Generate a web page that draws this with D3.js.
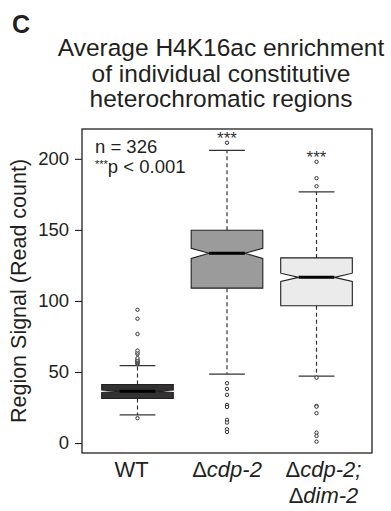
<!DOCTYPE html>
<html>
<head>
<meta charset="utf-8">
<script src="https://cdn.jsdelivr.net/npm/d3@7"></script>
<style>
  body { margin: 0; background: #fff; }
  svg { display: block; font-family: "Liberation Sans", Arial, Helvetica, sans-serif; }
</style>
</head>
<body>
<div id="chart"></div>
<script>
// Values
const groups = ["WT", "Δcdp-2", "Δcdp-2;Δdim-2"];
const lowerWhisker = [19.8, 48.5, 47.1];
const quartile1 = [31.3, 109, 96.6];
const medians = [36.4, 133.5, 116.6];
const quartile3 = [41.2, 149.7, 130.3];
const upperWhisker = [54.5, 205.9, 176.8];
const outliers = [
  [17.5, 55.6, 56.2, 56.9, 57.4, 58.0, 58.6, 59.8, 62.6, 63.7, 65.1, 76.7, 87.5, 93.8],
  [211.3, 42.1, 38.1, 33.9, 26.8, 25.4, 16.3, 14.4, 9.7, 7.8],
  [180.7, 186.4, 197.9, 46.0, 26.1, 25.6, 21.0, 7.3, 5.0, 1.0]
];
const boxFills = ["#323232", "#9b9b9b", "#ebebeb"];
const sampleSize = 326;
const yTicks = [0, 50, 100, 150, 200];
const significance = ["", "***", "***"];
const titleLines = ["Average H4K16ac enrichment", "of individual constitutive", "heterochromatic regions"];

const width = 391, height = 511;
const margin = { top: 129, right: 19, bottom: 58, left: 82 };
const ink = "#231f20";

const svg = d3.select("#chart").append("svg")
  .attr("width", width).attr("height", height);

// R-style axes: 4% padding on both axes
const x = d3.scaleLinear().domain([0.38, 3.62]).range([margin.left, width - margin.right]);
const y = d3.scaleLinear().domain([-7, 221]).range([height - margin.bottom, margin.top]);

const boxHalf = x(1.4) - x(1);          // boxwex 0.8
const notchHalf = boxHalf / 2;          // notch.frac 0.5
const capHalf = boxHalf / 2;            // staplewex 0.5

// panel letter and title
svg.append("text").attr("x", 12).attr("y", 33)
  .attr("font-size", 25).attr("font-weight", "bold").attr("fill", ink).text("C");

svg.append("g").selectAll("text").data(titleLines).join("text")
  .attr("x", 221).attr("y", (d, i) => 56 + i * 25.5)
  .attr("text-anchor", "middle").attr("font-size", 24.5).attr("fill", ink)
  .text(d => d);

// frame
svg.append("rect")
  .attr("x", margin.left).attr("y", margin.top)
  .attr("width", width - margin.left - margin.right)
  .attr("height", height - margin.top - margin.bottom)
  .attr("fill", "none").attr("stroke", ink).attr("stroke-width", 1.3);

// y axis
const yAxis = svg.append("g")
  .attr("transform", `translate(${margin.left},0)`)
  .call(d3.axisLeft(y).tickValues(yTicks).tickSize(7).tickPadding(6));
yAxis.select(".domain").remove();
yAxis.selectAll("line").attr("stroke", ink).attr("stroke-width", 1.1);
yAxis.selectAll("text").attr("font-size", 18.5).attr("fill", ink)
  .attr("font-family", "Liberation Sans, Arial, sans-serif");

svg.append("text")
  .attr("transform", `translate(26,${(margin.top + height - margin.bottom) / 2}) rotate(-90)`)
  .attr("text-anchor", "middle").attr("font-size", 21.5).attr("fill", ink)
  .text("Region Signal (Read count)");

// boxes
const stats = groups.map((g, i) => ({
  g, i, pos: i + 1,
  lo: lowerWhisker[i], q1: quartile1[i], med: medians[i], q3: quartile3[i], hi: upperWhisker[i],
  out: outliers[i], fill: boxFills[i], sig: significance[i]
}));

const boxes = svg.append("g").selectAll("g").data(stats).join("g");

// dashed whiskers
boxes.selectAll("line.whisker").data(d => [[d.pos, d.q3, d.hi], [d.pos, d.q1, d.lo]]).join("line")
  .attr("class", "whisker")
  .attr("x1", d => x(d[0])).attr("x2", d => x(d[0]))
  .attr("y1", d => y(d[1])).attr("y2", d => y(d[2]))
  .attr("stroke", "#333").attr("stroke-width", 1.2).attr("stroke-dasharray", "4,3");

// staples
boxes.selectAll("line.cap").data(d => [[d.pos, d.hi], [d.pos, d.lo]]).join("line")
  .attr("class", "cap")
  .attr("x1", d => x(d[0]) - capHalf).attr("x2", d => x(d[0]) + capHalf)
  .attr("y1", d => y(d[1])).attr("y2", d => y(d[1]))
  .attr("stroke", "#333").attr("stroke-width", 1.2);

// notched box
boxes.append("path")
  .attr("d", d => {
    const c = x(d.pos);
    const nh = 1.58 * (d.q3 - d.q1) / Math.sqrt(sampleSize);
    const pts = [
      [c - boxHalf, y(d.q1)], [c - boxHalf, y(d.med - nh)], [c - notchHalf, y(d.med)],
      [c - boxHalf, y(d.med + nh)], [c - boxHalf, y(d.q3)], [c + boxHalf, y(d.q3)],
      [c + boxHalf, y(d.med + nh)], [c + notchHalf, y(d.med)], [c + boxHalf, y(d.med - nh)],
      [c + boxHalf, y(d.q1)]
    ];
    return d3.line()(pts) + "Z";
  })
  .attr("fill", d => d.fill).attr("stroke", ink).attr("stroke-width", 1.1);

// median
boxes.append("line")
  .attr("x1", d => x(d.pos) - notchHalf).attr("x2", d => x(d.pos) + notchHalf)
  .attr("y1", d => y(d.med)).attr("y2", d => y(d.med))
  .attr("stroke", "#000").attr("stroke-width", 3);

// outliers
boxes.selectAll("circle").data(d => d.out.map(v => [d.pos, v])).join("circle")
  .attr("cx", d => x(d[0])).attr("cy", d => y(d[1])).attr("r", 1.7)
  .attr("fill", "#fff").attr("stroke", "#333").attr("stroke-width", 1);

// significance stars
boxes.filter(d => d.sig).append("text")
  .attr("x", d => x(d.pos))
  .attr("y", d => y(d3.max([d.hi, ...d.out])) + 1)
  .attr("text-anchor", "middle").attr("font-size", 17).attr("fill", "#333")
  .text(d => d.sig);

// annotations
svg.append("text").attr("x", 95).attr("y", 153)
  .attr("font-size", 18.5).attr("fill", ink).text(`n = ${sampleSize}`);
const pText = svg.append("text").attr("x", 95).attr("y", 173)
  .attr("font-size", 18.5).attr("fill", ink);
pText.append("tspan").attr("font-size", 11).attr("dy", -5).text("***");
pText.append("tspan").attr("dy", 5).text("p < 0.001");

// x labels, Δ upright and gene names italic
const labelNudge = [-6, 0, 7];
const xLabels = svg.append("g").selectAll("text").data(stats).join("text")
  .attr("x", d => x(d.pos) + labelNudge[d.i])
  .attr("y", 477)
  .attr("text-anchor", "middle").attr("font-size", 22).attr("fill", ink);

xLabels.each(function (d) {
  const t = d3.select(this);
  const lines = d.g.split(";").map((s, k, arr) => s + (k < arr.length - 1 ? ";" : ""));
  lines.forEach((line, k) => {
    const parts = line.startsWith("Δ") ? [["Δ", false], [line.slice(1), true]] : [[line, false]];
    parts.forEach(([txt, ital], j) => {
      const ts = t.append("tspan").text(txt).attr("font-style", ital ? "italic" : "normal");
      if (j === 0 && k > 0) ts.attr("x", x(d.pos) + labelNudge[d.i]).attr("dy", 26);
    });
  });
});
</script>
</body>
</html>
